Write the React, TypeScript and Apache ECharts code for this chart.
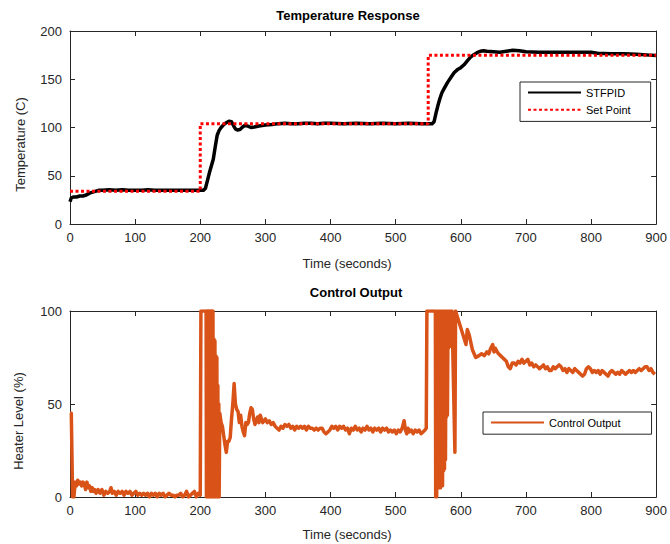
import React, { useEffect, useRef } from "react";
import * as echarts from "echarts";

const xTicks = [0, 100, 200, 300, 400, 500, 600, 700, 800, 900];

const tempTime = [0, 2, 5, 10, 15, 20, 25, 30, 35, 40, 45, 50, 60, 70, 80, 90, 100, 110, 120, 130, 140, 150, 160, 170, 180, 190, 200, 205, 208, 211, 214, 217, 220, 223, 226, 229, 232, 236, 240, 244, 248, 251, 254, 257, 261, 265, 269, 273, 278, 283, 290, 300, 310, 320, 330, 340, 350, 360, 370, 380, 390, 400, 420, 440, 460, 480, 500, 520, 540, 550, 556, 559, 562, 565, 568, 571, 575, 580, 585, 590, 595, 600, 605, 610, 615, 620, 625, 630, 635, 640, 650, 660, 670, 680, 690, 700, 720, 740, 760, 780, 800, 810, 830, 850, 870, 890, 900];
const tempValues = [23, 27, 28, 28, 29, 29, 30, 32, 33, 34, 35, 35, 35.5, 35, 35.5, 35, 35, 35, 35.5, 35, 35, 35, 35, 35, 35, 35, 35, 35, 37, 45, 53, 60, 67, 80, 92, 97, 100, 103, 105, 106.5, 106, 102, 98.5, 97.5, 98, 100.5, 102.5, 101.5, 100, 100.5, 101.5, 102.5, 103, 104, 104.5, 104, 104, 104.5, 104.5, 104, 104.5, 104.5, 104, 104.5, 104, 104.5, 104, 104.5, 104, 104, 104, 106, 115, 123, 130, 136, 141, 147, 152, 157, 160, 162, 165, 169, 173, 175.5, 177.5, 179, 179.5, 179, 178.5, 178, 179, 180, 179.5, 178.5, 178, 178, 178, 178, 178, 177, 176.5, 176.5, 176, 175, 174.5];

const setTime = [0, 200, 200, 550, 550, 900];
const setValues = [34, 34, 104, 104, 175, 175];

const ctrlTime = [0, 2, 4, 6, 8, 10, 12, 14, 16, 18, 20, 22, 24, 26, 28, 30, 32, 34, 36, 38, 40, 43, 46, 49, 52, 55, 58, 61, 63, 65, 68, 71, 74, 77, 80, 83, 86, 89, 92, 95, 98, 101, 104, 107, 110, 113, 116, 119, 122, 125, 128, 131, 134, 137, 140, 143, 146, 149, 152, 155, 158, 161, 164, 167, 170, 173, 176, 179, 182, 185, 188, 191, 194, 197, 200, 201, 209, 209.5, 210.5, 211, 212, 212.5, 213.5, 214, 215, 215.5, 216.5, 217, 218, 218.5, 219.5, 220, 221, 221.5, 222.5, 223, 224, 224.5, 225.5, 226, 227, 227.5, 228.5, 229, 230, 232, 234, 236, 238, 240, 242, 244, 246, 248, 250, 252, 254, 256, 258, 260, 262, 264, 266, 268, 270, 272, 274, 276, 278, 280, 282, 284, 286, 288, 290, 292, 294, 296, 298, 300, 303, 306, 309, 312, 315, 318, 321, 324, 327, 330, 333, 336, 339, 342, 345, 348, 351, 354, 357, 360, 363, 366, 369, 372, 375, 378, 381, 384, 387, 390, 393, 396, 399, 402, 405, 408, 411, 414, 417, 420, 423, 426, 429, 432, 435, 438, 441, 444, 447, 450, 453, 456, 459, 462, 465, 468, 471, 474, 477, 480, 483, 486, 489, 492, 495, 498, 501, 504, 507, 510, 513, 515, 517, 519, 521, 524, 527, 530, 533, 536, 539, 542, 545, 547, 548, 561, 561.5, 563, 564, 564.5, 565.5, 566, 567, 567.5, 568.5, 569, 570, 570.5, 571.5, 572, 573, 573.5, 574.5, 575, 576, 576.5, 577.5, 578, 579, 579.5, 580.5, 581, 582, 582.5, 583.5, 584, 585, 585.5, 586.5, 591, 592, 593, 608, 610, 613, 618, 623, 628, 632, 636, 640, 643, 646, 649, 651, 653, 656, 658, 661, 664, 667, 670, 673, 676, 679, 682, 685, 688, 691, 694, 697, 700, 703, 706, 709, 712, 715, 718, 721, 724, 727, 730, 733, 736, 739, 742, 745, 748, 751, 754, 757, 760, 763, 766, 769, 772, 775, 778, 781, 784, 787, 790, 793, 796, 799, 802, 805, 808, 811, 814, 817, 820, 823, 826, 829, 832, 835, 838, 841, 844, 847, 850, 853, 856, 859, 862, 865, 868, 871, 874, 877, 880, 883, 886, 889, 892, 895, 898, 900];
const ctrlValues = [45, 45, 0, 0, 8, 6, 9, 7, 8, 6, 8, 7, 4, 8, 5, 6, 3, 5, 3, 4, 2, 4, 2, 4, 1, 3, 2, 3, 5, 2, 3, 1, 3, 2, 3, 1, 3, 2, 3, 1, 2, 3, 1, 2, 1, 2, 1, 2, 0, 2, 1, 2, 0, 2, 1, 2, 0, 1, 2, 1, 1, 0, 1, 1, 2, 0, 1, 3, 0, 1, 2, 3, 0, 2, 1, 100, 100, 0, 100, 0, 100, 0, 100, 0, 100, 0, 100, 0, 100, 0, 100, 0, 85, 0, 84, 0, 76, 0, 75, 0, 60, 0, 50, 0, 45, 40, 38, 33, 28, 24, 30, 30, 32, 42, 50, 61, 50, 47, 46, 40, 44, 38, 35, 33, 40, 39, 40, 45, 48, 47, 42, 39, 41, 43, 40, 44, 42, 40, 41, 42, 40, 41, 39, 40, 38, 37, 36, 38, 37, 39, 38, 39, 37, 38, 36, 38, 37, 38, 37, 38, 36, 38, 37, 37, 36, 37, 36, 37, 37, 35, 34, 35, 36, 38, 37, 38, 36, 38, 37, 38, 36, 37, 34, 37, 36, 38, 36, 37, 35, 37, 36, 38, 36, 37, 35, 37, 36, 37, 35, 37, 36, 37, 35, 36, 35, 36, 34, 36, 35, 37, 41, 36, 34, 37, 35, 36, 34, 36, 35, 36, 34, 35, 36, 37, 100, 100, 0, 0, 100, 5, 100, 5, 100, 5, 100, 5, 100, 6, 100, 6, 100, 14, 100, 15, 100, 20, 100, 43, 100, 44, 100, 80, 100, 82, 100, 81, 100, 100, 100, 24, 100, 100, 82, 90, 87, 79, 75, 76, 77, 76, 78, 77, 80, 82, 78, 80, 78, 77, 76, 75, 74, 73, 70, 69, 72, 72, 71, 73, 72, 74, 72, 73, 74, 71, 72, 70, 71, 70, 69, 70, 71, 69, 70, 68, 68, 70, 69, 70, 71, 70, 68, 69, 67, 69, 68, 67, 69, 68, 67, 66, 65, 66, 69, 70, 69, 67, 68, 67, 68, 66, 68, 67, 66, 65, 67, 68, 67, 66, 67, 66, 68, 67, 66, 67, 68, 67, 68, 67, 68, 69, 68, 69, 70, 70, 68, 69, 67, 66];

const zip = (xs: number[], ys: number[]) => xs.map((x, i) => [x, ys[i]]);

const FONT = "Liberation Sans";
const AX = "#262626";

function xAxisPair(grid: number) {
  const base = {
    gridIndex: grid,
    type: "value" as const,
    min: xTicks[0],
    max: xTicks[xTicks.length - 1],
    interval: xTicks[1] - xTicks[0],
    splitLine: { show: false },
    axisLine: { show: true, onZero: false, lineStyle: { color: AX, width: 1 } },
    axisTick: { show: true, inside: true, length: 5, lineStyle: { color: AX } },
  };
  return [
    {
      ...base,
      position: "bottom",
      name: "Time (seconds)",
      nameLocation: "middle",
      nameGap: grid === 0 ? 33 : 31,
      nameTextStyle: { fontFamily: FONT, fontSize: 13, color: AX, padding: [0, 32, 0, 0] },
      axisLabel: { show: true, margin: 7, fontFamily: FONT, fontSize: 13, color: AX },
    },
    { ...base, position: "top", axisLabel: { show: false } },
  ];
}

function yAxisPair(grid: number, max: number, name: string, gap: number) {
  const base = {
    gridIndex: grid,
    type: "value" as const,
    min: 0,
    max,
    interval: 50,
    splitLine: { show: false },
    axisLine: { show: true, onZero: false, lineStyle: { color: AX, width: 1 } },
    axisTick: { show: true, inside: true, length: 5, lineStyle: { color: AX } },
  };
  return [
    {
      ...base,
      position: "left",
      name,
      nameLocation: "middle",
      nameGap: gap,
      nameTextStyle: { fontFamily: FONT, fontSize: 13, color: AX, padding: [0, 34, 0, 0] },
      axisLabel: { show: true, margin: 8, fontFamily: FONT, fontSize: 13, color: AX },
    },
    { ...base, position: "right", axisLabel: { show: false } },
  ];
}

const legendItemStyle = { color: "transparent", borderWidth: 0, opacity: 0 };

export default function App() {
  const ref = useRef<HTMLDivElement>(null);
  useEffect(() => {
    if (!ref.current) return;
    const chart = echarts.init(ref.current, undefined, { renderer: "svg" });
    chart.setOption({
      animation: false,
      backgroundColor: "#ffffff",
      title: [
        {
          text: "Temperature Response",
          left: 343,
          textAlign: "center",
          top: 4,
          textStyle: { fontFamily: FONT, fontSize: 13, fontWeight: "bold", color: "#000" },
        },
        {
          text: "Control Output",
          left: 351,
          textAlign: "center",
          top: 281,
          textStyle: { fontFamily: FONT, fontSize: 13, fontWeight: "bold", color: "#000" },
        },
      ],
      grid: [
        { left: 70, top: 31, width: 594, height: 193, containLabel: false },
        { left: 70, top: 311, width: 594, height: 186, containLabel: false },
      ],
      xAxis: [...xAxisPair(0), ...xAxisPair(1)],
      yAxis: [
        ...yAxisPair(0, 200, "Temperature (C)", 43),
        ...yAxisPair(1, 100, "Heater Level (%)", 45),
      ],
      legend: [
        {
          data: ["STFPID", "Set Point"],
          orient: "vertical",
          left: 520,
          top: 82,
          padding: [5, 20, 6, 7],
          itemGap: 6,
          itemWidth: 53,
          itemHeight: 14,
          itemStyle: legendItemStyle,
          backgroundColor: "#fff",
          borderColor: AX,
          borderWidth: 1,
          textStyle: { fontFamily: FONT, fontSize: 11, color: "#000" },
        },
        {
          data: ["Control Output"],
          orient: "vertical",
          left: 483,
          top: 412,
          padding: [5, 31, 6, 7],
          itemWidth: 53,
          itemHeight: 14,
          itemStyle: legendItemStyle,
          backgroundColor: "#fff",
          borderColor: AX,
          borderWidth: 1,
          textStyle: { fontFamily: FONT, fontSize: 11, color: "#000" },
        },
      ],
      series: [
        {
          name: "STFPID",
          type: "line",
          xAxisIndex: 0,
          yAxisIndex: 0,
          data: zip(tempTime, tempValues),
          showSymbol: false,
          symbol: "none",
          lineStyle: { color: "#000", width: 3.5, join: "round" },
          itemStyle: { color: "#000" },
        },
        {
          name: "Set Point",
          type: "line",
          xAxisIndex: 0,
          yAxisIndex: 0,
          data: zip(setTime, setValues),
          showSymbol: false,
          symbol: "none",
          lineStyle: { color: "#ff0000", width: 3, type: [3, 2.5] },
          itemStyle: { color: "#ff0000" },
        },
        {
          name: "Control Output",
          type: "line",
          xAxisIndex: 2,
          yAxisIndex: 2,
          data: zip(ctrlTime, ctrlValues),
          showSymbol: false,
          symbol: "none",
          lineStyle: { color: "#D95319", width: 3.5, join: "round" },
          itemStyle: { color: "#D95319" },
        },
      ],
    });
    return () => chart.dispose();
  }, []);
  return (
    <div
      ref={ref}
      style={{ position: "fixed", left: 0, top: 0, width: 670, height: 544 }}
    />
  );
}
